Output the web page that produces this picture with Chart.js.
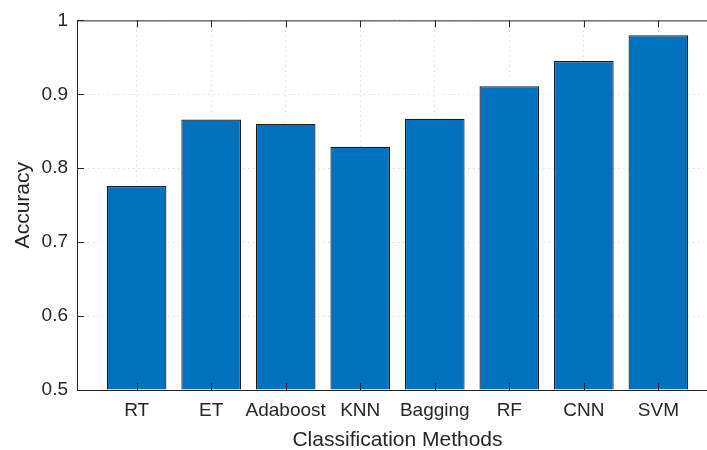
<!DOCTYPE html>
<html>
<head>
<meta charset="utf-8">
<script src="https://cdn.jsdelivr.net/npm/chart.js@4"></script>
<style>
  html, body { margin: 0; padding: 0; background: #fff; overflow: hidden; }
  #wrap { width: 707px; height: 450px; overflow: hidden; }
</style>
</head>
<body>
<div id="wrap"><canvas id="chart" width="730" height="453"></canvas></div>
<script>
const methods  = ['RT', 'ET', 'Adaboost', 'KNN', 'Bagging', 'RF', 'CNN', 'SVM'];
const accuracy = [0.776, 0.866, 0.860, 0.829, 0.867, 0.911, 0.945, 0.980];
const yTicks   = [0.5, 0.6, 0.7, 0.8, 0.9, 1];

const axisColor = '#262626';
const fontFamily = '"Liberation Sans", Arial, Helvetica, sans-serif';

// matlab style: box on, ticks pointing inwards
const boxTicks = {
    id: 'boxTicks',
    afterDraw(chart) {
        const { ctx, chartArea: a, scales } = chart;
        const len = 7;
        ctx.save();
        ctx.strokeStyle = axisColor;
        ctx.lineWidth = 1;
        ctx.beginPath();
        ctx.moveTo(a.left, a.top + 0.5);
        ctx.lineTo(a.right, a.top + 0.5);
        ctx.moveTo(a.right - 0.5, a.top);
        ctx.lineTo(a.right - 0.5, a.bottom);
        scales.x.ticks.forEach(t => {
            const px = Math.round(scales.x.getPixelForValue(t.value)) + 0.5;
            ctx.moveTo(px, a.bottom);
            ctx.lineTo(px, a.bottom - len);
            ctx.moveTo(px, a.top);
            ctx.lineTo(px, a.top + len);
        });
        scales.y.ticks.forEach(t => {
            const py = Math.round(scales.y.getPixelForValue(t.value)) + 0.5;
            ctx.moveTo(a.left, py);
            ctx.lineTo(a.left + len, py);
            ctx.moveTo(a.right, py);
            ctx.lineTo(a.right - len, py);
        });
        ctx.stroke();
        ctx.restore();
    },
};

new Chart(document.getElementById('chart'), {
    type: 'bar',
    data: {
        datasets: [{
            label: 'Accuracy',
            data: methods.map((m, i) => ({ x: i + 1, y: accuracy[i] })),
            backgroundColor: '#0072BD',
            borderColor: '#1a1a1a',
            borderWidth: 1.2,
            borderSkipped: 'start',
            base: 0.5,
            barPercentage: 0.8,
            categoryPercentage: 1.0,
        }],
    },
    options: {
        responsive: false,
        animation: false,
        layout: { padding: { top: 17, right: 12, left: 0, bottom: 0 } },
        plugins: {
            legend: { display: false },
            tooltip: { enabled: false },
        },
        scales: {
            x: {
                type: 'linear',
                offset: false,
                min: 0.2,
                max: 8.8,
                afterBuildTicks: s => { s.ticks = methods.map((m, i) => ({ value: i + 1 })); },
                afterFit: s => { s.height = 63; },
                ticks: {
                    callback: v => methods[v - 1],
                    font: { family: fontFamily, size: 19 },
                    color: axisColor,
                    padding: 9,
                    maxRotation: 0,
                    autoSkip: false,
                },
                grid: { offset: false, color: '#dedede', lineWidth: 1, drawTicks: false },
                border: { color: axisColor, width: 1, dash: [1.5, 3.5] },
                title: {
                    display: true,
                    text: 'Classification Methods',
                    font: { family: fontFamily, size: 21 },
                    color: axisColor,
                    padding: { top: 0, bottom: 0 },
                },
            },
            y: {
                min: 0.5,
                max: 1,
                afterBuildTicks: s => { s.ticks = yTicks.map(v => ({ value: v })); },
                afterFit: s => { s.width = 77; },
                ticks: {
                    callback: v => String(v),
                    font: { family: fontFamily, size: 19 },
                    color: axisColor,
                    padding: 9,
                },
                grid: { color: '#dedede', lineWidth: 1, drawTicks: false },
                border: { color: axisColor, width: 1, dash: [1.5, 3.5] },
                title: {
                    display: true,
                    text: 'Accuracy',
                    font: { family: fontFamily, size: 21 },
                    color: axisColor,
                    padding: { top: 11, bottom: 0 },
                },
            },
        },
    },
    plugins: [boxTicks],
});
</script>
</body>
</html>
